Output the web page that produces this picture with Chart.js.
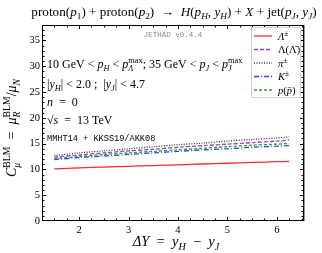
<!DOCTYPE html>
<html><head><meta charset="utf-8">
<script src="https://cdn.jsdelivr.net/npm/chart.js@4/dist/chart.umd.min.js"></script>
<style>html,body{margin:0;padding:0;background:#fff;}#wrap{width:322px;height:253px;position:relative;}</style>
</head><body><div id="wrap"><canvas id="c" width="322" height="253"></canvas></div>
<script>
const deltaY = [1.5, 2.0, 2.5, 3.0, 3.5, 4.0, 4.5, 5.0, 5.5, 6.0, 6.25];
const lambdaPM = [10.1, 10.3, 10.45, 10.6, 10.75, 10.9, 11.05, 11.2, 11.35, 11.5, 11.55];
const lambdaBar = [12.4, 12.8, 13.2, 13.6, 13.9, 14.3, 14.6, 14.9, 15.2, 15.5, 15.7];
const pionPM = [12.7, 13.2, 13.6, 14.0, 14.4, 14.8, 15.1, 15.5, 15.8, 16.1, 16.3];
const kaonPM = [11.9, 12.3, 12.6, 12.9, 13.2, 13.5, 13.8, 14.0, 14.3, 14.5, 14.6];
const protonP = [12.1, 12.5, 12.9, 13.2, 13.5, 13.8, 14.1, 14.4, 14.7, 14.9, 15.05];
const xTicks = [2, 3, 4, 5, 6];
const yTicks = [0, 5, 10, 15, 20, 25, 30, 35];

const SERIF = '"Liberation Serif","DejaVu Serif",serif';

function fontFor(style, size){
  const it = (style === 'i' || style === 'subi' || style === 'supi') ? 'italic ' : '';
  const small = (style.startsWith('sub') || style.startsWith('sup')) ? 0.7 : 1;
  return it + (size*small).toFixed(2) + 'px ' + SERIF;
}
function segOffset(style, size){
  if (style.startsWith('sub')) return size*0.25;
  if (style.startsWith('sup')) return -size*0.38;
  return 0;
}
function segWidth(ctx, t, s, size){
  if (s === 'ss'){ // "sub|sup" stacked
    const [a, b] = t.split('|');
    ctx.font = fontFor('subi', size); const wa = ctx.measureText(a).width;
    ctx.font = fontFor('sup', size); const wb = ctx.measureText(b).width;
    return Math.max(wa, wb);
  }
  ctx.font = fontFor(s, size); return ctx.measureText(t).width;
}
function richWidth(ctx, segs, size){
  let w = 0;
  for (const [t, s] of segs) w += segWidth(ctx, t, s, size);
  return w;
}
function drawRich(ctx, x, y, segs, size, align){
  const w = richWidth(ctx, segs, size);
  let cx = align === 'center' ? x - w/2 : (align === 'right' ? x - w : x);
  ctx.textBaseline = 'alphabetic';
  ctx.textAlign = 'left';
  for (const [t, s] of segs){
    if (s === 'ss'){
      const [a, b] = t.split('|');
      ctx.font = fontFor('subi', size); ctx.fillText(a, cx, y + size*0.28);
      ctx.font = fontFor('sup', size); ctx.fillText(b, cx, y - size*0.4);
    } else {
      ctx.font = fontFor(s, size);
      ctx.fillText(t, cx, y + segOffset(s, size));
    }
    cx += segWidth(ctx, t, s, size);
  }
}

const series = [
  {label: [['Λ','i'],['±','sup']], data: lambdaPM, color: '#ff2a2a', dash: []},
  {label: [['Λ(','r'],['Λ̄','r'],[')','r']], data: lambdaBar, color: '#a33fc4', dash: [4,2]},
  {label: [['π','i'],['±','sup']], data: pionPM, color: '#333333', dash: [1,1.5]},
  {label: [['K','i'],['±','sup']], data: kaonPM, color: '#2b45f0', dash: [5,2,1,2]},
  {label: [['p','i'],['(','r'],['p̄','i'],[')','r']], data: protonP, color: '#2aa02a', dash: [3,2]}
];

const framePlugin = {
  id: 'frame',
  afterDraw(chart){
    const ctx = chart.ctx;
    const a = chart.chartArea;
    const xs = chart.scales.x, ys = chart.scales.y;
    ctx.save();
    ctx.strokeStyle = '#000'; ctx.lineWidth = 1;
    ctx.strokeRect(a.left+0.5, a.top+0.5, a.right-a.left-1, a.bottom-a.top-1);
    ctx.strokeStyle = '#9a9a9a';
    ctx.beginPath(); ctx.moveTo(a.right+0.5, a.top); ctx.lineTo(a.right+0.5, a.bottom); ctx.stroke();
    ctx.strokeStyle = '#000';
    // ticks
    ctx.beginPath();
    for (let v = 1.25; v <= 6.55; v += 0.25){
      const px = Math.round(xs.getPixelForValue(v)) + 0.5;
      if (px <= a.left+1 || px >= a.right-1) continue;
      const major = Math.abs(v - Math.round(v)) < 1e-6;
      const L = major ? 4 : 2.5;
      ctx.moveTo(px, a.bottom); ctx.lineTo(px, a.bottom - L);
      ctx.moveTo(px, a.top); ctx.lineTo(px, a.top + L);
    }
    for (let v = 0; v <= 38; v += 1){
      const py = Math.round(ys.getPixelForValue(v)) + 0.5;
      if (py <= a.top+1 || py >= a.bottom-1) continue;
      const major = v % 5 === 0;
      const L = major ? 4 : 2.5;
      ctx.moveTo(a.left, py); ctx.lineTo(a.left + L, py);
      ctx.moveTo(a.right, py); ctx.lineTo(a.right - L, py);
    }
    ctx.stroke();
    // tick labels
    ctx.fillStyle = '#000';
    ctx.font = '10.5px ' + SERIF;
    ctx.textAlign = 'center'; ctx.textBaseline = 'top';
    for (const t of xTicks) ctx.fillText(String(t), xs.getPixelForValue(t), a.bottom + 4);
    ctx.textAlign = 'right'; ctx.textBaseline = 'middle';
    for (const t of yTicks) ctx.fillText(String(t), a.left - 2, ys.getPixelForValue(t));
    // title
    drawRich(ctx, 174, 16, [['proton(','r'],['p','i'],['1','sub'],[') + proton(','r'],['p','i'],['2','sub'],[')  →  ','r'],['H','i'],['(','r'],['p','i'],['H','subi'],[', ','r'],['y','i'],['H','subi'],[') + ','r'],['X','i'],[' + jet(','r'],['p','i'],['J','subi'],[', ','r'],['y','i'],['J','subi'],[')','r']], 13.2, 'center');
    // x axis title
    drawRich(ctx, 176, 246, [['ΔY','i'],['  =  ','r'],['y','i'],['H','subi'],['  −  ','r'],['y','i'],['J','subi']], 14.5, 'center');
    // y axis title
    ctx.save();
    ctx.translate(16, 128);
    ctx.rotate(-Math.PI/2);
    drawRich(ctx, 0, 0, [['C','i'],['μ|BLM','ss'],['  =  ','r'],['μ','i'],['R|BLM','ss'],['/','r'],['μ','i'],['N','subi']], 14, 'center');
    ctx.restore();
    // JETHAD
    ctx.fillStyle = '#8a8a8a';
    ctx.font = '7.5px "Liberation Mono","DejaVu Sans Mono",monospace';
    ctx.textAlign = 'center'; ctx.textBaseline = 'middle';
    ctx.fillText('JETHAD v0.4.4', 173, 35);
    // annotations
    ctx.fillStyle = '#000';
    const S = 12, X0 = 47;
    drawRich(ctx, X0, 68, [['10 GeV < ','r'],['p','i'],['H','subi'],[' < ','r'],['p','i'],['Λ|max','ss'],['; 35 GeV < ','r'],['p','i'],['J','subi'],[' < ','r'],['p','i'],['J|max','ss']], S, 'left');
    drawRich(ctx, X0, 88, [['|','r'],['y','i'],['H','subi'],['| < 2.0 ;  |','r'],['y','i'],['J','subi'],['| < 4.7','r']], S, 'left');
    drawRich(ctx, X0, 106, [['n','i'],['  =  0','r']], S, 'left');
    drawRich(ctx, X0, 124, [['√','r'],['s','i'],['  =  13 TeV','r']], S, 'left');
    ctx.font = '8.6px "Liberation Mono","DejaVu Sans Mono",monospace';
    ctx.textAlign = 'left'; ctx.textBaseline = 'alphabetic';
    ctx.fillText('MMHT14 + KKSS19/AKK08', X0, 141);
    // legend
    const lx = 251.5, ly = 27.5, lw = 49, lh = 70;
    ctx.fillStyle = '#fff'; ctx.strokeStyle = '#d0d0d0'; ctx.lineWidth = 1;
    ctx.fillRect(lx, ly, lw, lh); ctx.strokeRect(lx, ly, lw, lh);
    const rowY = [36, 49.5, 63, 76.5, 90];
    series.forEach((s, i) => {
      ctx.strokeStyle = s.color; ctx.lineWidth = 1.3; ctx.setLineDash(s.dash);
      ctx.beginPath(); ctx.moveTo(254, rowY[i]); ctx.lineTo(272, rowY[i]); ctx.stroke();
      ctx.setLineDash([]);
      ctx.fillStyle = '#000';
      drawRich(ctx, 278, rowY[i] + 3.5, s.label, 10.5, 'left');
    });
    ctx.restore();
  }
};

new Chart(document.getElementById('c'), {
  type: 'line',
  data: {
    datasets: series.map(s => ({
      label: s.label.map(x => x[0]).join(''),
      data: deltaY.map((x, i) => ({x, y: s.data[i]})),
      borderColor: s.color, borderDash: s.dash, borderWidth: 1.3,
      pointRadius: 0, tension: 0.3, fill: false
    }))
  },
  options: {
    responsive: false, animation: false, devicePixelRatio: 1,
    layout: {padding: {left: 42, top: 25, right: 18, bottom: 32}},
    plugins: {legend: {display: false}, tooltip: {enabled: false}},
    scales: {
      x: {type: 'linear', min: 1.25, max: 6.55, display: false},
      y: {type: 'linear', min: 0, max: 38, display: false}
    }
  },
  plugins: [framePlugin]
});
</script></body></html>
